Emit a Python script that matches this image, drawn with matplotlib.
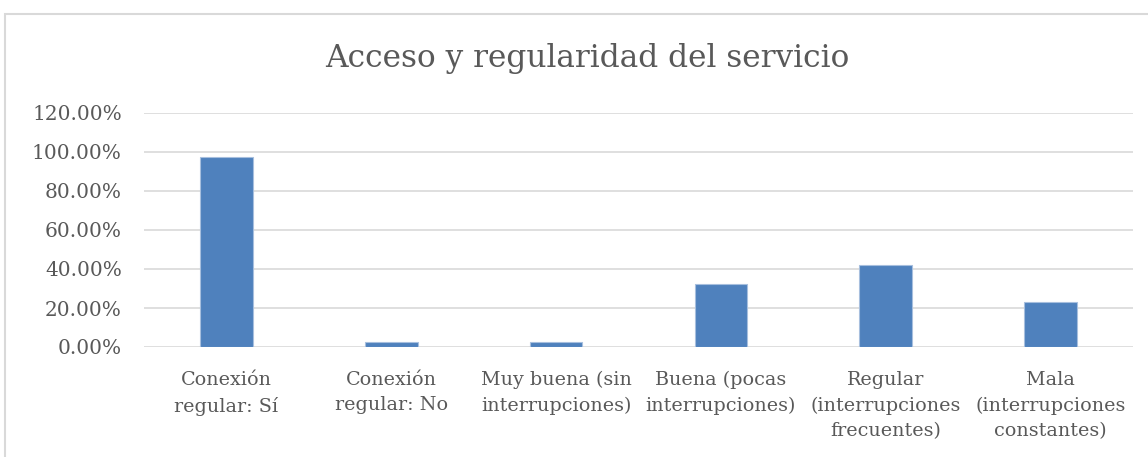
import numpy as np
import matplotlib
matplotlib.use("Agg")
import matplotlib.pyplot as plt
from matplotlib.patches import Rectangle
from matplotlib.ticker import PercentFormatter

# Data
categories = [
    "Conexión\nregular: Sí",
    "Conexión\nregular: No",
    "Muy buena (sin\ninterrupciones)",
    "Buena (pocas\ninterrupciones)",
    "Regular\n(interrupciones\nfrecuentes)",
    "Mala\n(interrupciones\nconstantes)",
]
values = [0.9767, 0.0233, 0.0233, 0.3256, 0.4186, 0.2326]
yticks = [0.0, 0.2, 0.4, 0.6, 0.8, 1.0, 1.2]

text_color = "#595959"
grid_color = "#d9d9d9"
bar_color = "#4f81bd"

plt.rcParams["font.family"] = ["DejaVu Serif"]

W, H = 1148, 457
fig = plt.figure(figsize=(W / 100, H / 100), dpi=100)

# chart area border (Excel style)
fig.patches.append(Rectangle((5, -20), 1200, H - 14 + 20, transform=None,
                             fill=False, edgecolor=grid_color, linewidth=1.5))

ax = fig.add_axes([144 / W, 1 - 347 / H, (1133 - 144) / W, (347 - 113) / H])

x = np.arange(len(categories))
ax.bar(x, values, width=0.32, color=bar_color, edgecolor="#a7bfde",
       linewidth=0.8, zorder=3)

ax.set_xlim(-0.5, len(categories) - 0.5)
ax.set_ylim(0, 1.2)
ax.set_yticks(yticks)
ax.yaxis.set_major_formatter(PercentFormatter(xmax=1, decimals=2))
ax.set_xticks(x)
ax.set_xticklabels(categories, linespacing=1.55)

ax.grid(axis="y", color=grid_color, linewidth=1.2, zorder=0)
for s in ax.spines.values():
    s.set_visible(False)
ax.tick_params(axis="y", length=0, pad=16, labelsize=14.5, labelcolor=text_color)
ax.tick_params(axis="x", length=0, pad=17, labelsize=13.8, labelcolor=text_color)

fig.text(0.512, 1 - 58 / H, "Acceso y regularidad del servicio",
         ha="center", va="center", fontsize=22.5, color=text_color)

fig.savefig("out.png", dpi=100, facecolor="white")
